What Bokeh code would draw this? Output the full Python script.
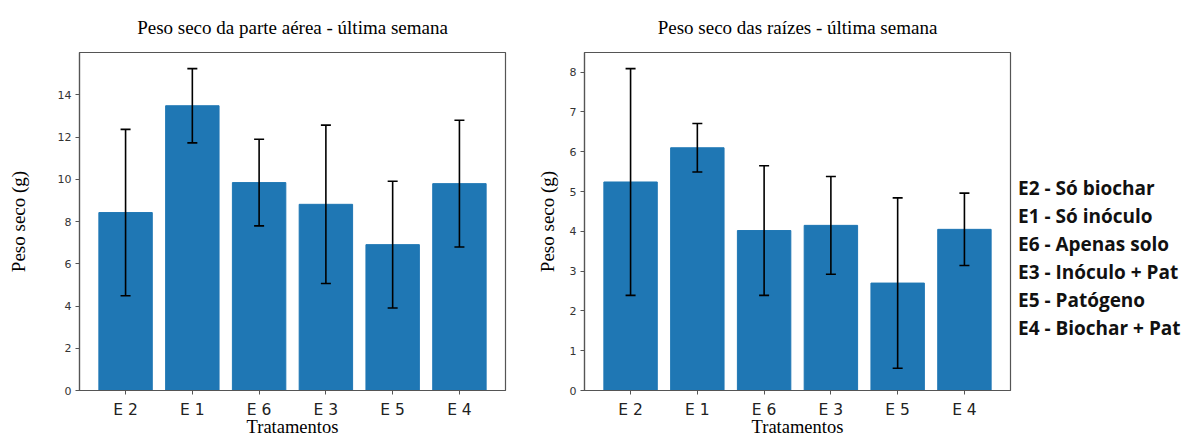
import numpy as np
from bokeh.plotting import figure
from bokeh.models import ColumnDataSource, Range1d, FixedTicker, Whisker, TeeHead, Div
from bokeh.layouts import row
from bokeh.embed import file_html
from bokeh.resources import INLINE

tratamentos = ["E 2", "E 1", "E 6", "E 3", "E 5", "E 4"]
aerea_media = [8.43, 13.49, 9.85, 8.82, 6.91, 9.80]
aerea_dp = [3.94, 1.76, 2.05, 3.75, 3.00, 3.00]
raiz_media = [5.24, 6.10, 4.02, 4.15, 2.70, 4.05]
raiz_dp = [2.85, 0.61, 1.63, 1.23, 2.14, 0.91]
legenda = ["E2 - Só biochar", "E1 - Só inóculo", "E6 - Apenas solo",
           "E3 - Inóculo + Pat", "E5 - Patógeno", "E4 - Biochar + Pat"]

titulos = ["Peso seco da parte aérea - última semana", "Peso seco das raízes - última semana"]
y_label = "Peso seco (g)"
x_label = "Tratamentos"

SERIF = "Liberation Serif"
SANS = "DejaVu Sans"


def make_fig(title, media, dp, yticks, width, left, right, standoff):
    media = np.array(media)
    dp = np.array(dp)
    x = np.arange(len(tratamentos))
    src = ColumnDataSource(dict(x=x, top=media, upper=media + dp, lower=media - dp))
    ymax = float((media + dp).max()) * 1.05
    p = figure(width=width, height=439, min_border_left=left, min_border_right=right,
               min_border_top=52, min_border_bottom=49,
               x_range=Range1d(-0.69, len(tratamentos) - 1 + 0.69), y_range=Range1d(0, ymax),
               output_backend="svg", toolbar_location=None, title=title)
    p.vbar(x="x", top="top", width=0.8, source=src, fill_color="#1f77b4", line_color="#1f77b4")
    w = Whisker(base="x", upper="upper", lower="lower", source=src, level="overlay",
                line_color="black", line_width=1.6,
                upper_head=TeeHead(size=10, line_color="black", line_width=1.6),
                lower_head=TeeHead(size=10, line_color="black", line_width=1.6))
    p.add_layout(w)
    p.grid.visible = False
    p.outline_line_color = "#555555"
    p.outline_line_width = 1.2
    p.title.text_font = SERIF
    p.title.text_font_size = "19px"
    p.title.text_font_style = "normal"
    p.title.align = "center"
    p.title.text_color = "black"
    p.title.standoff = 29

    p.xaxis.ticker = FixedTicker(ticks=list(range(len(tratamentos))))
    p.xaxis.major_label_overrides = {i: t for i, t in enumerate(tratamentos)}
    p.xaxis.major_label_text_font = SANS
    p.xaxis.major_label_text_font_size = "15.5px"
    p.xaxis.major_label_text_color = "#222222"
    p.xaxis.major_label_standoff = 6
    p.xaxis.axis_label = x_label
    p.xaxis.axis_label_text_font = SERIF
    p.xaxis.axis_label_text_font_size = "18.5px"
    p.xaxis.axis_label_text_font_style = "normal"
    p.xaxis.axis_label_text_color = "black"
    p.xaxis.axis_label_standoff = -5

    p.yaxis.ticker = FixedTicker(ticks=yticks)
    p.yaxis.major_label_text_font = SANS
    p.yaxis.major_label_text_font_size = "11px"
    p.yaxis.major_label_text_color = "#333333"
    p.yaxis.major_label_standoff = 4
    p.yaxis.axis_label = y_label
    p.yaxis.axis_label_text_font = SERIF
    p.yaxis.axis_label_text_font_size = "19px"
    p.yaxis.axis_label_text_font_style = "normal"
    p.yaxis.axis_label_text_color = "black"
    p.yaxis.axis_label_standoff = standoff

    for ax in (p.xaxis, p.yaxis):
        ax.axis_line_color = "#555555"
        ax.axis_line_width = 1.2
        ax.major_tick_line_color = "#555555"
        ax.major_tick_out = 4
        ax.major_tick_in = 0
        ax.minor_tick_line_color = None
    return p


p1 = make_fig(titulos[0], aerea_media, aerea_dp, list(range(0, 15, 2)), 530, 79, 25, 26)
p2 = make_fig(titulos[1], raiz_media, raiz_dp, list(range(0, 9)), 482, 54, 2, 9)

html_leg = "<br>".join(legenda)
leg = Div(text=html_leg, width=163, height=439,
          styles={"font-family": "'Open Sans'", "font-weight": "bold", "font-size": "19px",
                  "line-height": "28px", "color": "#111111", "padding-top": "174px",
                  "padding-left": "6px", "white-space": "nowrap", "margin": "0px"})

layout = row(p1, p2, leg, spacing=0)
open("out.html", "w").write(file_html(layout, INLINE))
